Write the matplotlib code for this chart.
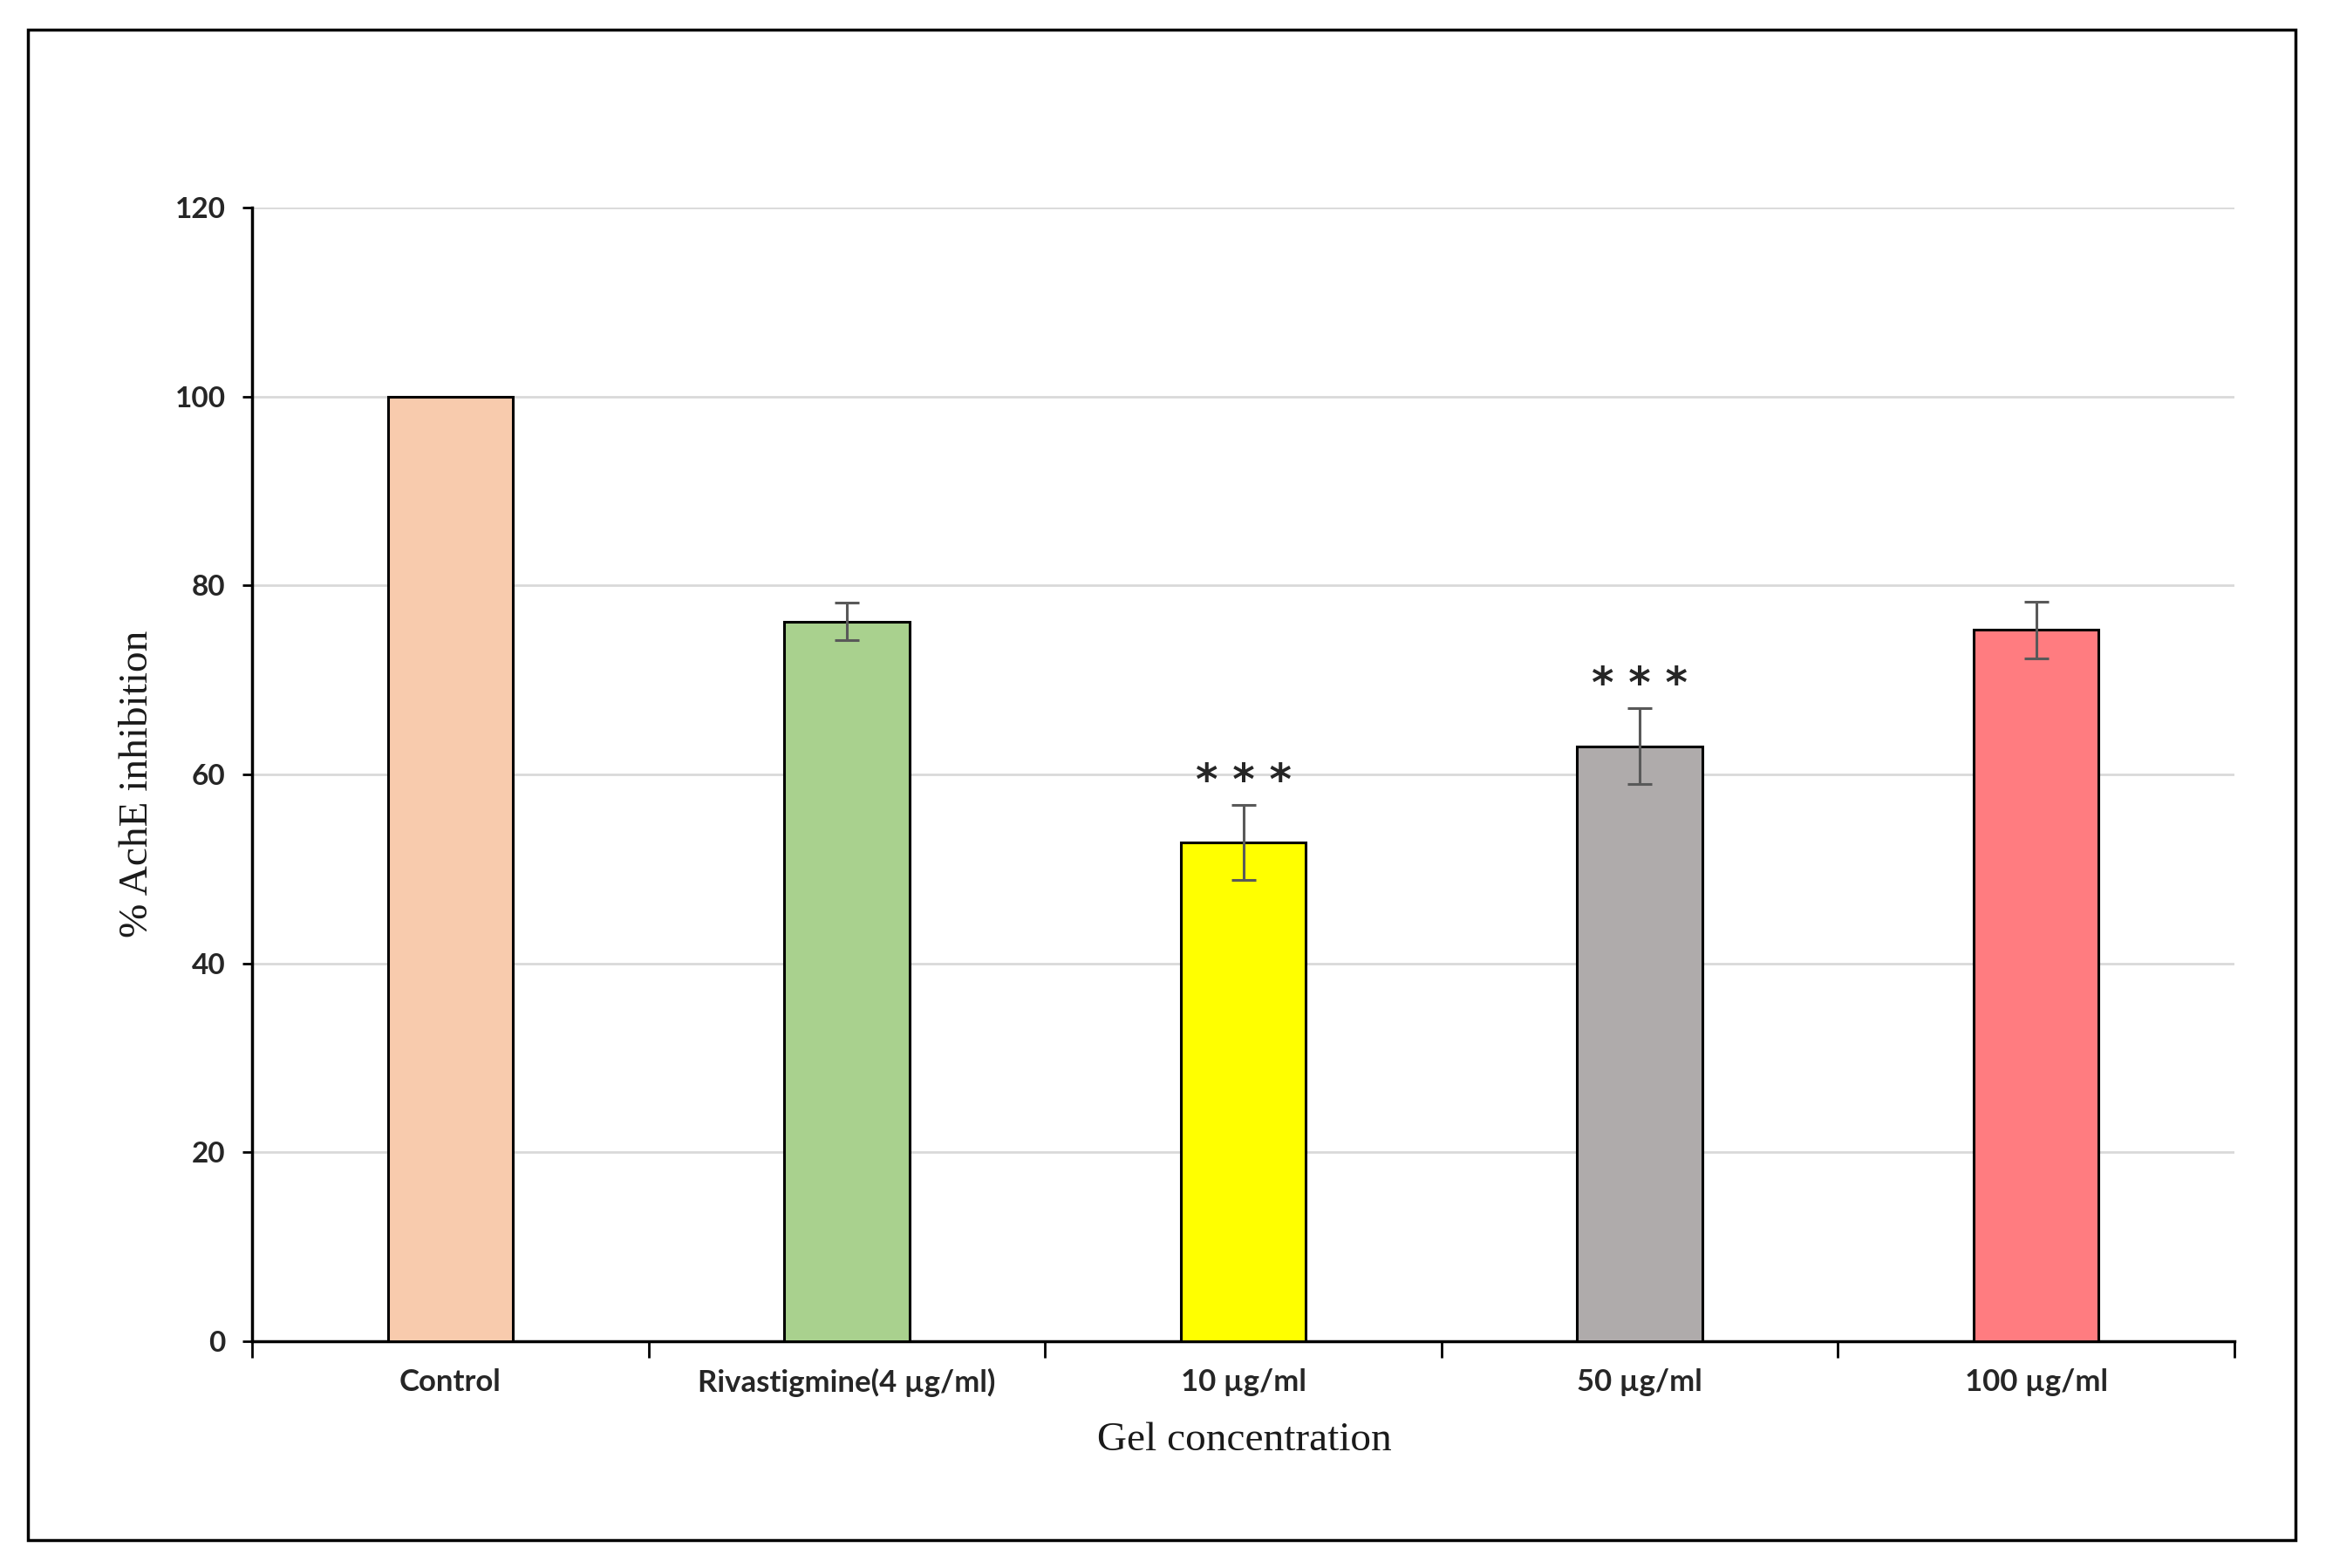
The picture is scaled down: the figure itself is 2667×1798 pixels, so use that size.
import matplotlib
matplotlib.use("Agg")
import matplotlib.pyplot as plt
from matplotlib.patches import Rectangle

# data
groups = ["Control", "Rivastigmine(4 µg/ml)", "10 µg/ml", "50 µg/ml", "100 µg/ml"]
inhibition = [100, 76.2, 52.8, 63.0, 75.3]
err = [0, 2.0, 4.0, 4.0, 3.0]
colors = ["#F8CBAD", "#A9D18E", "#FFFF00", "#AFABAB", "#FF7C80"]
stars = ["", "", "* * *", "* * *", ""]

fig = plt.figure(figsize=(26.67, 17.98), dpi=100)
ax = fig.add_axes([0.1084, 0.1446, 0.8522, 0.7230])

x = list(range(len(groups)))
ax.bar(x, inhibition, width=0.315, color=colors, edgecolor="black", linewidth=2.2, zorder=3)
for xi, v, e in zip(x, inhibition, err):
    if e > 0:
        ax.errorbar(xi, v, yerr=e, color="#595959", elinewidth=2.2, capsize=10,
                    capthick=2.2, zorder=4)

# significance marks above the error bars
for xi, v, e, s in zip(x, inhibition, err, stars):
    if s:
        ax.text(xi, v + e + 2.4, s, ha="center", va="center", fontsize=35,
                fontweight="bold", family="DejaVu Sans", color="#262626", zorder=5)

ax.set_xlim(-0.5, len(groups) - 0.5)
ax.set_ylim(0, 120)
ax.set_yticks(range(0, 121, 20))
ax.yaxis.grid(True, color="#D9D9D9", linewidth=2, zorder=0)
ax.set_axisbelow(True)

# ticks at category boundaries, labels at centers
ax.set_xticks([i - 0.5 for i in range(len(groups) + 1)])
ax.set_xticklabels([])
ax.set_xticks(x, minor=True)
ax.set_xticklabels(groups, minor=True, fontsize=25, fontweight="bold", family="Lato", color="#262626")
ax.tick_params(axis="x", which="major", length=14, width=2, direction="out", color="black")
ax.tick_params(axis="x", which="minor", length=0, pad=22)
ax.tick_params(axis="y", length=8, width=2, direction="out", pad=14)
for lab in ax.get_yticklabels():
    lab.set_fontsize(24)
    lab.set_fontweight("bold")
    lab.set_family("Lato")
    lab.set_color("#262626")

for side in ["top", "right"]:
    ax.spines[side].set_visible(False)
ax.spines["left"].set_linewidth(2.5)
ax.spines["bottom"].set_linewidth(2.5)

fig.text(0.0593, 0.5, "% AchE inhibition", rotation=90, ha="center", va="center",
         fontsize=34, family="Liberation Serif", color="#1a1a1a")
fig.text(0.535, 0.0812, "Gel concentration", ha="center", va="center",
         fontsize=34, family="Liberation Serif", color="#1a1a1a")

# outer frame around the figure
fig.patches.append(Rectangle((0.012, 0.0178), 0.975, 0.9632, transform=fig.transFigure,
                             fill=False, edgecolor="black", linewidth=2.5))

fig.savefig("out.png", dpi=100)
